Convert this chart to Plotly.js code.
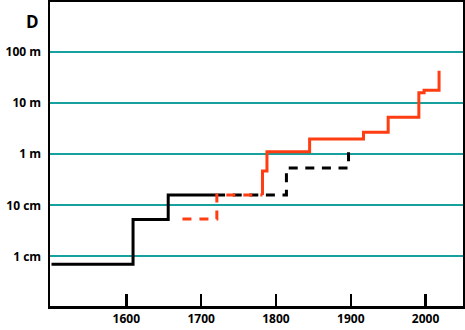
<!DOCTYPE html>
<html>
<head>
<meta charset="utf-8">
<script src="https://cdn.plot.ly/plotly-3.0.1.min.js"></script>
<style>html,body{margin:0;padding:0;background:#fff}#chart{width:465px;height:330px}</style>
</head>
<body>
<div id="chart"></div>
<script>
// Years and levels (metres) for each stepped series
const blackSolidYears = [1500, 1609, 1656, 1720];
const blackSolidValues = [0.007, 0.053, 0.16, 0.16];
const blackDashYears = [1720, 1814, 1897];
const blackDashValues = [0.16, 0.54, 1.1];
const redDashYears = [1675, 1721, 1782];
const redDashValues = [0.054, 0.16, 0.16];
const redSolidYears = [1782, 1782, 1788, 1845, 1917, 1950, 1991, 1998, 2018];
const redSolidValues = [0.16, 0.47, 1.12, 2.0, 2.7, 5.3, 16, 17.8, 43];
const xTicks = [1600, 1700, 1800, 1900, 2000];
const yTickVals = [0.01, 0.1, 1, 10, 100];
const yTickText = ["1 cm", "10 cm", "1 m", "10 m", "100 m"];

const BLACK = "#000000";
const RED = "#ff3d12";
const TEAL = "#17a19e";
const FONT = "'Open Sans', Lato, sans-serif";

function trace(x, y, color, dash) {
  return {x: x, y: y, type: "scatter", mode: "lines",
    line: {shape: "hv", color: color, width: 3, dash: dash},
    hoverinfo: "skip", showlegend: false};
}

const data = [
  trace(blackSolidYears, blackSolidValues, BLACK, "solid"),
  trace(blackDashYears, blackDashValues, BLACK, "9px,7.6px"),
  trace(redDashYears, redDashValues, RED, "9px,8px"),
  trace(redSolidYears, redSolidValues, RED, "solid")
];

const layout = {
  width: 465, height: 330,
  margin: {l: 50, r: 2, t: 2, b: 24},
  paper_bgcolor: "#fff", plot_bgcolor: "#fff",
  font: {family: FONT, size: 12, color: "#000"},
  xaxis: {
    range: [1498, 2050], tickvals: xTicks, ticktext: xTicks.map(String),
    ticks: "inside", ticklen: 12, tickwidth: 2.5, tickcolor: BLACK,
    showgrid: false, zeroline: false,
    showline: true, linecolor: BLACK, linewidth: 2.5, mirror: true,
    tickfont: {family: FONT, size: 12, color: "#000", weight: "bold"}
  },
  yaxis: {
    type: "log", range: [-2.97, 2.98],
    tickvals: yTickVals, ticktext: yTickText, ticks: "",
    showgrid: true, gridcolor: TEAL, gridwidth: 2, zeroline: false,
    showline: true, linecolor: BLACK, linewidth: 2.5, mirror: true,
    ticklabelstandoff: 4,
    tickfont: {family: FONT, size: 12, color: "#000", weight: "bold"}
  },
  annotations: [{
    text: "<b>D</b>", xref: "paper", yref: "paper",
    x: -0.042, y: 0.9375, xanchor: "center", yanchor: "middle",
    showarrow: false, font: {family: FONT, size: 17, color: "#000"}
  }]
};

Plotly.newPlot("chart", data, layout, {staticPlot: true, displayModeBar: false});
</script>
</body>
</html>
